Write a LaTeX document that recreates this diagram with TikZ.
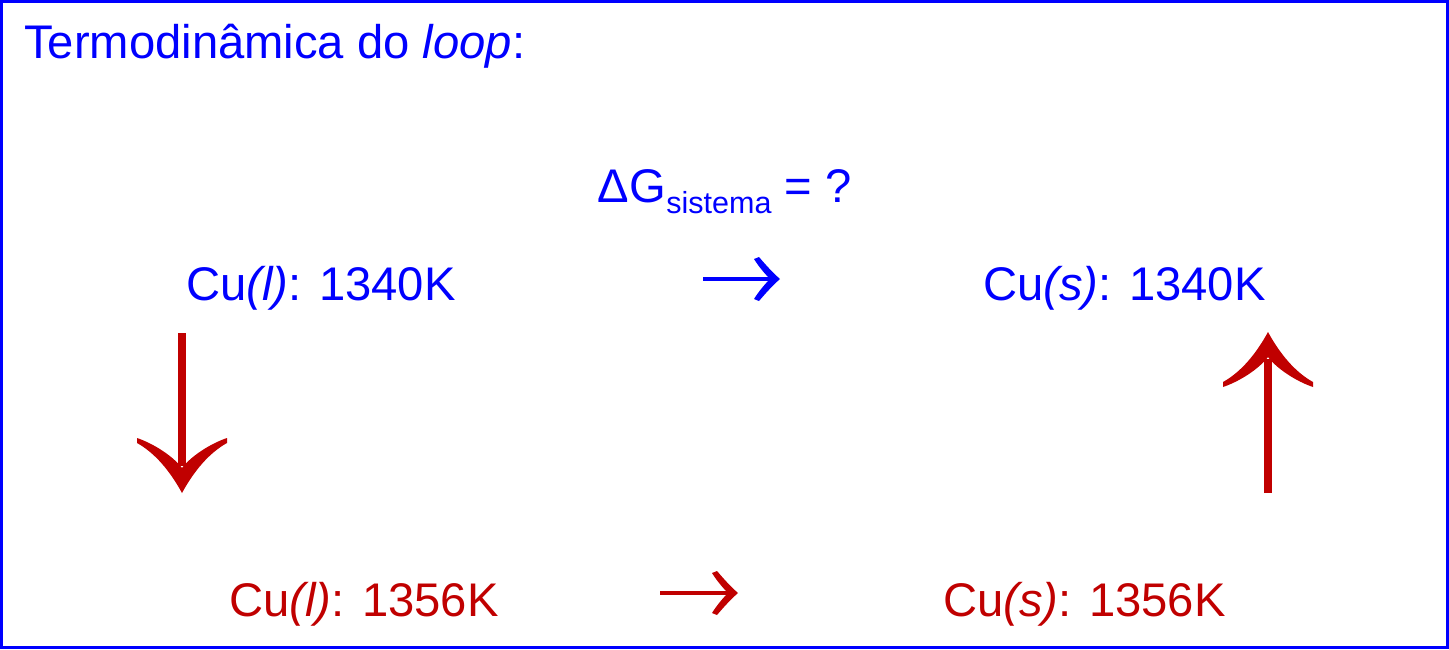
\documentclass[tikz,border=0pt]{standalone}
\usepackage{fontspec}
\setmainfont{Liberation Sans}
\definecolor{tblue}{RGB}{0,0,255}
\definecolor{tred}{RGB}{192,0,0}
\tikzset{
  x=1pt, y=-1pt,
  lbl/.style={anchor=base west, inner sep=0pt, font=\fontsize{47.2}{57}\selectfont},
  bigshaft/.style={line width=8pt, tred},
  smallshaft/.style={line width=4pt},
  bighead/.pic={\fill (0,0) .. controls (-22,12) and (-40,27) .. (-50,45) -- (-55,45)
      .. controls (-50,30) and (-38,10) .. (-25,0)
      .. controls (-38,-10) and (-50,-30) .. (-55,-45) -- (-50,-45)
      .. controls (-40,-27) and (-22,-12) .. (0,0) -- cycle;},
  smallhead/.pic={\fill (0,0) .. controls (-8,7) and (-15,15) .. (-21,22) -- (-26,20)
      .. controls (-21,12) and (-15,5) .. (-10,0)
      .. controls (-15,-5) and (-21,-12) .. (-26,-20) -- (-21,-22)
      .. controls (-15,-15) and (-8,-7) .. (0,0) -- cycle;}
}
\begin{document}
\begin{tikzpicture}
\useasboundingbox (0,0) rectangle (1449,649);
\draw[tblue, line width=2.5pt] (1.5,1.5) rectangle (1447.5,647.5);

\node[lbl, text=tblue] (title) at (24,58) {Termodinâmica do \textit{loop}:};
\node[lbl, text=tblue] (dg) at (597,202) {Δ\kern1pt G\raisebox{-11pt}{\fontsize{30.5}{36}\selectfont sistema} = ?};
\node[lbl, text=tblue] (l1340) at (186,300) {Cu\textit{(l)}: 1340K};
\node[lbl, text=tblue] (s1340) at (983,300) {Cu\textit{(s)}: 1340K};
\node[lbl, text=tred] (l1356) at (229,616) {Cu\textit{(l)}: 1356K};
\node[lbl, text=tred] (s1356) at (943,616) {Cu\textit{(s)}: 1356K};

% blue horizontal arrow
\coordinate (ba1) at (703,279);
\coordinate (ba2) at (780,279);
\draw[smallshaft, tblue] (ba1) -- ([xshift=-8pt]ba2);
\pic[tblue] at (ba2) {smallhead};

% red horizontal arrow
\coordinate (ra1) at (660,593);
\coordinate (ra2) at (738,593);
\draw[smallshaft, tred] (ra1) -- ([xshift=-8pt]ra2);
\pic[tred] at (ra2) {smallhead};

% red down arrow
\coordinate (da1) at (182,333);
\coordinate (da2) at (182,493);
\draw[bigshaft] (da1) -- ([yshift=27pt]da2);
\pic[tred, rotate=-90] at (da2) {bighead};

% red up arrow
\coordinate (ua1) at (1268,493);
\coordinate (ua2) at (1268,332);
\draw[bigshaft] (ua1) -- ([yshift=-27pt]ua2);
\pic[tred, rotate=90] at (ua2) {bighead};
\end{tikzpicture}
\end{document}
